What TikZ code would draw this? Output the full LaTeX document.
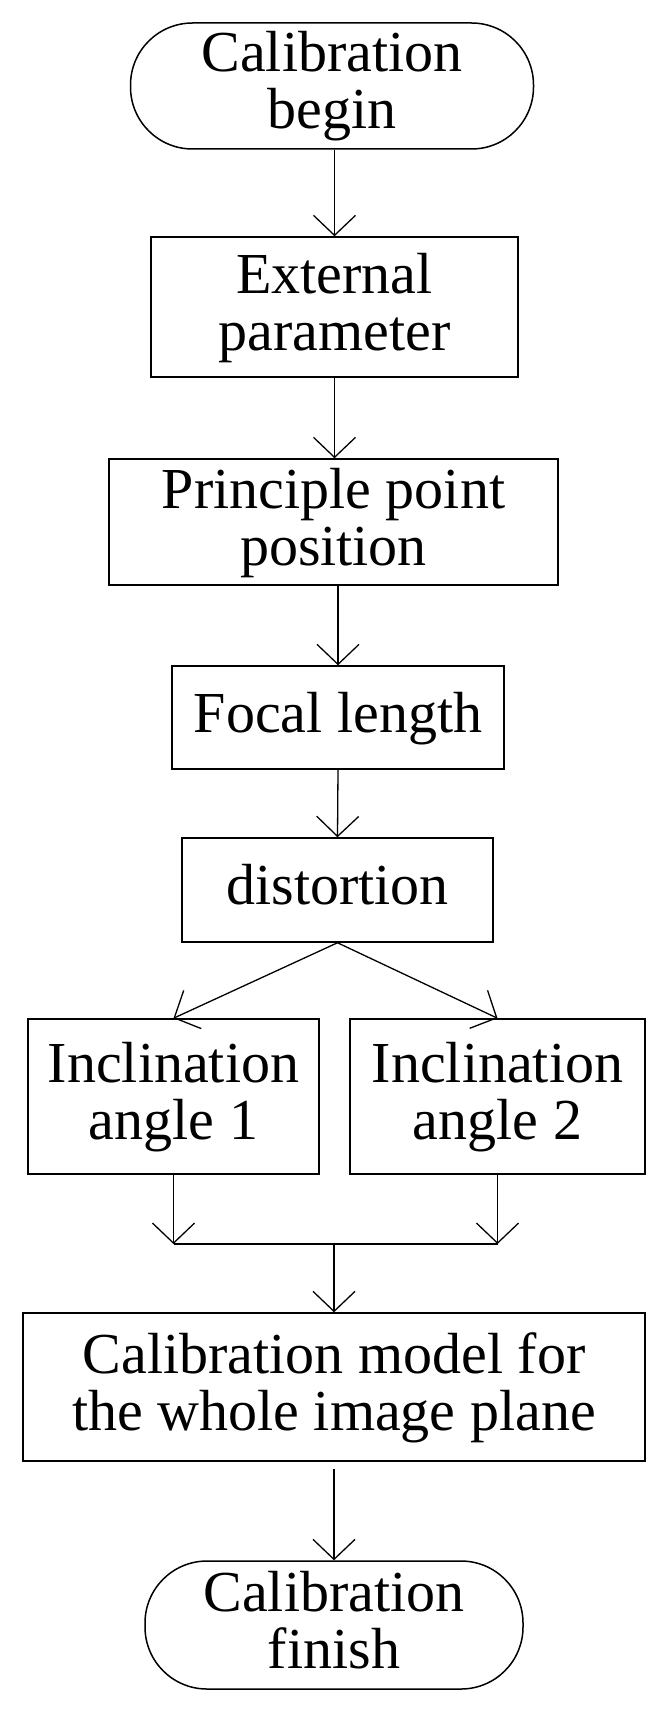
\documentclass[tikz,border=0pt]{standalone}
\usepackage{fontspec}
\setmainfont{Liberation Serif}
\usetikzlibrary{arrows.meta}
\newcommand\lnstrut{\rule[-13pt]{0pt}{55pt}}
\begin{document}
\begin{tikzpicture}[x=1pt,y=-1pt,
  base/.style={draw, line width=1.5pt, inner sep=0pt, align=center,
    font=\fontsize{58}{57}\selectfont},
  procbox/.style={base, rectangle},
  term/.style={base, rectangle, rounded corners=62pt},
  conn/.style={line width=1.3pt},
  arr/.style={conn, -{Straight Barb[length=20pt,width=42pt]}}]
\useasboundingbox (0,0) rectangle (669,1712);
\node[term, minimum width=403pt, minimum height=126pt] (start) at (332,86)
  {\lnstrut Calibration\\\lnstrut begin};
\node[procbox, minimum width=367pt, minimum height=140pt] (ext) at (334.5,307)
  {\lnstrut External\\\lnstrut parameter};
\node[procbox, minimum width=449pt, minimum height=126pt] (pp) at (333.5,522)
  {\lnstrut Principle point\\\lnstrut position};
\node[procbox, minimum width=332pt, minimum height=103pt] (focal) at (338,717.5)
  {\lnstrut Focal length};
\node[procbox, minimum width=311pt, minimum height=104pt] (dist) at (337.5,890)
  {\lnstrut distortion};
\node[procbox, minimum width=291pt, minimum height=155pt] (inc1) at (173.5,1096.5)
  {\lnstrut Inclination\\\lnstrut angle 1};
\node[procbox, minimum width=295pt, minimum height=155pt] (inc2) at (497.5,1096.5)
  {\lnstrut Inclination\\\lnstrut angle 2};
\node[procbox, minimum width=622pt, minimum height=148pt] (model) at (334,1387)
  {\lnstrut Calibration model for\\\lnstrut the whole image plane};
\node[term, minimum width=378pt, minimum height=128pt] (finish) at (334,1625)
  {\lnstrut Calibration\\\lnstrut finish};
\coordinate (mj) at (334,1244);
\draw[arr] (start.south -| ext.north) -- (ext.north);
\draw[arr] (ext.south) -- (ext.south |- pp.north);
\draw[arr] (pp.south -| focal.north) -- (focal.north);
\draw[arr] (focal.south) -- (dist.north);
\draw[arr] (dist.south) -- (inc1.north);
\draw[arr] (dist.south) -- (inc2.north);
\draw[arr] (inc1.south) -- (inc1.south |- mj);
\draw[arr] (inc2.south) -- (inc2.south |- mj);
\draw[conn] (inc1.south |- mj) -- (inc2.south |- mj);
\draw[arr] (mj) -- (model.north);
\draw[arr, shorten <=7pt] (model.south) -- (finish.north);
\end{tikzpicture}
\end{document}
